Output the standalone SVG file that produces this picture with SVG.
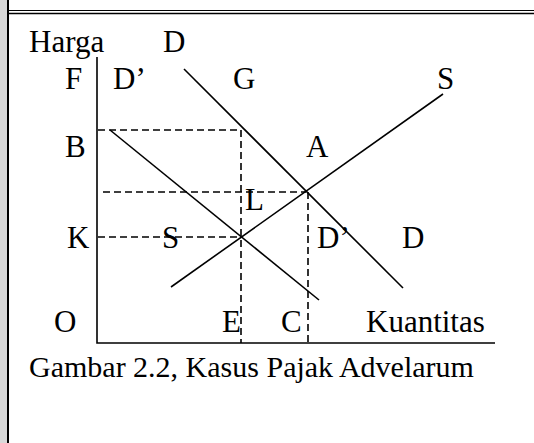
<svg xmlns="http://www.w3.org/2000/svg" width="534" height="443" viewBox="0 0 534 443">
<style>
.t{font-family:"Liberation Serif","Times New Roman",serif;font-size:31px;fill:#000}
.c{font-size:30px}
.s{stroke:#000;stroke-width:1.6;fill:none}
.d{stroke:#000;stroke-width:1.6;fill:none;stroke-dasharray:7 4}
</style>
<rect x="0" y="0" width="534" height="443" fill="#fff"/>
<rect x="0" y="0" width="7" height="443" fill="#d9d9d9"/>
<g id="frame">
<line x1="8" y1="0" x2="8" y2="443" stroke="#000" stroke-width="2"/>
<line x1="8" y1="10.5" x2="534" y2="10.5" stroke="#000" stroke-width="1"/>
<line x1="8" y1="13.5" x2="534" y2="13.5" stroke="#000" stroke-width="1.5"/>
</g>
<g id="axes">
<polyline class="s" points="97,57 97,343 495,343"/>
</g>
<g id="connectors">
<line class="s" x1="184" y1="69" x2="403" y2="288"/>
<line class="s" x1="110" y1="130" x2="319" y2="300"/>
<line class="s" x1="171" y1="287" x2="443" y2="94"/>
<line class="d" x1="98" y1="130" x2="241" y2="130"/>
<line class="d" x1="241" y1="130" x2="241" y2="343"/>
<line class="d" x1="103" y1="192" x2="306" y2="192"/>
<line class="d" x1="98" y1="237" x2="241" y2="237"/>
<line class="d" x1="308" y1="192" x2="308" y2="343"/>
</g>
<g id="labels">
<text class="t" x="29" y="52">Harga</text>
<text class="t" x="163" y="52">D</text>
<text class="t" x="65" y="89">F</text>
<text class="t" x="113" y="89">D’</text>
<text class="t" x="233" y="89">G</text>
<text class="t" x="437" y="89">S</text>
<text class="t" x="65" y="157">B</text>
<text class="t" x="306" y="157">A</text>
<text class="t" x="245" y="210">L</text>
<text class="t" x="67" y="248">K</text>
<text class="t" x="162" y="248">S</text>
<text class="t" x="317" y="248">D’</text>
<text class="t" x="402" y="248">D</text>
<text class="t" x="54" y="332">O</text>
<text class="t" x="222" y="332">E</text>
<text class="t" x="281" y="332">C</text>
<text class="t" x="366" y="332">Kuantitas</text>
<text class="t c" x="29" y="377">Gambar 2.2, Kasus Pajak Advelarum</text>
</g>
</svg>
